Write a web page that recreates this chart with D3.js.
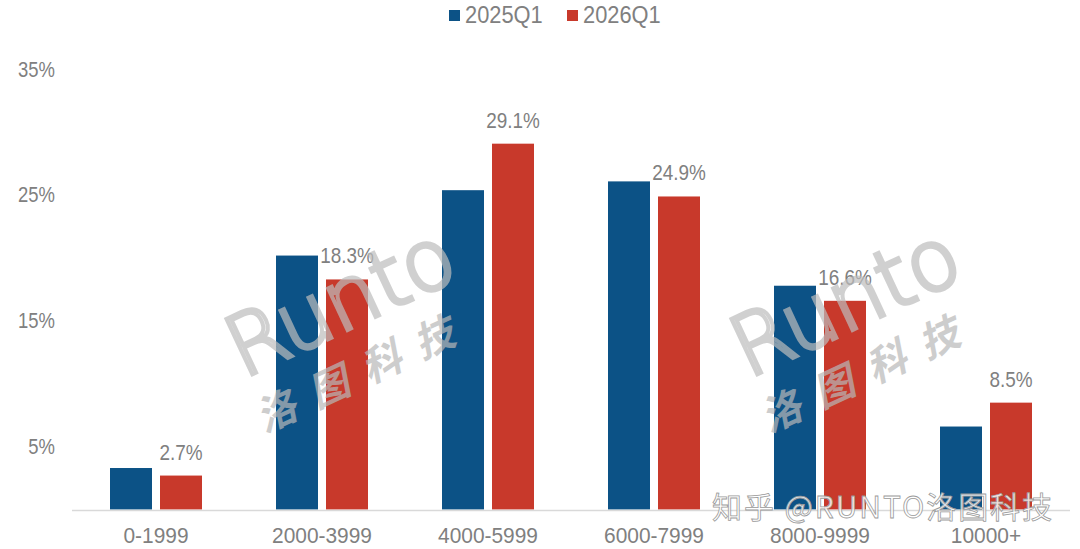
<!DOCTYPE html>
<html>
<head>
<meta charset="utf-8">
<script src="https://cdn.jsdelivr.net/npm/d3@7"></script>
<style>
  body { margin: 0; background: #fff; }
  svg { display: block; }
  .txt { font-family: "Liberation Sans", Arial, sans-serif; fill: #808080; }
</style>
</head>
<body>
<svg id="grafico" width="1080" height="549"></svg>
<script>
// dados
const categorias = ["0-1999", "2000-3999", "4000-5999", "6000-7999", "8000-9999", "10000+"];
const series = ["2025Q1", "2026Q1"];
const valores2025 = [3.3, 20.2, 25.4, 26.1, 17.8, 6.6];
const valores2026 = [2.7, 18.3, 29.1, 24.9, 16.6, 8.5];
const ticksY = [5, 15, 25, 35];
const cores = ["#0c5286", "#c8392b"];

const width = 1080, height = 549;
const margin = {top: 69.5, right: 11, bottom: 39.5, left: 73};

const svg = d3.select("#grafico");

const dados = categorias.map((c, i) => ({
  categoria: c,
  valores: [
    {serie: series[0], valor: valores2025[i]},
    {serie: series[1], valor: valores2026[i]}
  ]
}));

// texto estreito: a fonte original é condensada, então aperta no eixo x
function estreito(sel, px, sx, fx, fy) {
  return sel.append("text")
    .attr("class", "txt")
    .attr("transform", d => "translate(" + fx(d) + "," + fy(d) + ") scale(" + sx + ",1)")
    .style("font-size", px + "px");
}

// eixo Y
const y = d3.scaleLinear()
  .domain([0, 35])
  .range([height - margin.bottom, margin.top]);

const gy = svg.append("g").selectAll("g").data(ticksY).enter();
estreito(gy, 22, 0.84, d => 55, d => y(d) + 7)
  .attr("text-anchor", "end")
  .text(d => d + "%");

// eixo X (categorias)
const x0 = d3.scaleBand()
  .domain(categorias)
  .range([margin.left, width - margin.right]);

const x1 = d3.scaleBand()
  .domain(series)
  .range([0, x0.bandwidth()])
  .paddingInner(0.16)
  .paddingOuter(0.74);

const cor = d3.scaleOrdinal().domain(series).range(cores);

const grupos = svg.selectAll(".grupo")
  .data(dados)
  .enter()
  .append("g")
  .attr("class", "grupo")
  .attr("transform", d => "translate(" + x0(d.categoria) + ",0)");

grupos.selectAll("rect")
  .data(d => d.valores)
  .enter()
  .append("rect")
  .attr("x", d => x1(d.serie))
  .attr("y", d => y(d.valor))
  .attr("width", x1.bandwidth())
  .attr("height", d => y(0) - y(d.valor))
  .attr("fill", d => cor(d.serie));

// rótulos só da série 2026Q1
estreito(grupos, 21.5, 0.88,
    d => x1(series[1]) + x1.bandwidth() / 2,
    d => y(d.valores[1].valor) - 16)
  .attr("text-anchor", "middle")
  .text(d => d.valores[1].valor.toFixed(1) + "%");

// linha do eixo X
svg.append("line")
  .attr("x1", margin.left - 1)
  .attr("x2", width - margin.right + 1)
  .attr("y1", y(0) + 1)
  .attr("y2", y(0) + 1)
  .attr("stroke", "#d9d9d9")
  .attr("stroke-width", 1.5);

const gx = svg.append("g").selectAll("g").data(categorias).enter();
estreito(gx, 22, 0.95, d => x0(d) + x0.bandwidth() / 2, d => 543)
  .attr("text-anchor", "middle")
  .text(d => d);

// legenda
const legenda = svg.append("g")
  .selectAll("g")
  .data(series)
  .enter()
  .append("g")
  .attr("transform", (d, i) => "translate(" + (449 + i * 118) + ",0)");

legenda.append("rect")
  .attr("x", 0)
  .attr("y", 10)
  .attr("width", 11)
  .attr("height", 11)
  .attr("fill", d => cor(d));

estreito(legenda, 23.5, 0.93, d => 16, d => 23)
  .text(d => d);

// marcas d'água
const marcas = [0, 505];
marcas.forEach(dx => {
  const m = svg.append("g")
    .attr("transform", "translate(" + (352 + dx) + ",328) rotate(-25)")
    .style("opacity", 0.7);
  m.append("text")
    .attr("x", 0)
    .attr("y", 0)
    .attr("text-anchor", "middle")
    .style("font-family", "'DejaVu Sans', sans-serif")
    .style("font-size", "84px")
    .style("font-weight", "300")
    .attr("fill", "none")
    .attr("stroke", "#bdbdbd")
    .attr("stroke-width", 4)
    .style("letter-spacing", "-1px")
    .text("Runto");
  m.append("text")
    .attr("x", -8)
    .attr("y", 58)
    .attr("text-anchor", "middle")
    .style("font-family", "'Noto Sans CJK SC', sans-serif")
    .style("font-size", "40px")
    .style("font-weight", "bold")
    .style("font-style", "italic")
    .style("letter-spacing", "18px")
    .attr("fill", "#b8b8b8")
    .text("洛图科技");
});

svg.append("text")
  .attr("x", 712)
  .attr("y", 518)
  .attr("textLength", 340)
  .style("font-family", "'Noto Sans CJK SC', sans-serif")
  .style("font-size", "30px")
  .attr("fill", "#ffffff")
  .attr("fill-opacity", 0.85)
  .attr("stroke", "#9a9a9a")
  .attr("stroke-width", 0.8)
  .text("知乎 @RUNTO洛图科技");
</script>
</body>
</html>
